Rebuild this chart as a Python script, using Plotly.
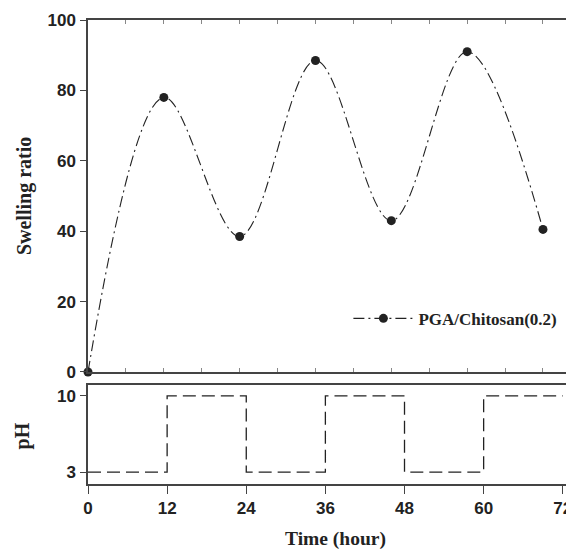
import plotly.graph_objects as go

# Swelling data
time_h = [0, 11.5, 23, 34.5, 46, 57.5, 69]
swelling = [0, 78, 38.5, 88.5, 43, 91, 40.5]
series_name = "PGA/Chitosan(0.2)"

# pH program
ph_time = [0, 12, 24, 36, 48, 60, 72]
ph_value = [3, 10, 3, 10, 3, 10, 10]

x_ticks = [0, 12, 24, 36, 48, 60, 72]
sw_ticks = [0, 20, 40, 60, 80, 100]
ph_ticks = [3, 10]

AX = "#444444"
INK = "#222222"
SANS = "Liberation Sans"
SERIF = "Liberation Serif"

fig = go.Figure()
fig.add_trace(go.Scatter(
    x=time_h, y=swelling, name=series_name, mode="lines+markers",
    line=dict(shape="spline", smoothing=1.0, color=INK, width=1.1, dash="11px,4px,2px,4px"),
    marker=dict(size=9, color=INK),
    cliponaxis=False, xaxis="x", yaxis="y",
))
fig.add_trace(go.Scatter(
    x=ph_time, y=ph_value, mode="lines", showlegend=False,
    line=dict(shape="hv", color=INK, width=1.3, dash="13px,6px"),
    xaxis="x2", yaxis="y2",
))

tickfont = dict(family=SANS, size=17, color=INK, weight="bold")
xr = [0, 73.4]

fig.update_layout(
    width=566, height=542,
    margin=dict(l=80, r=0, t=12, b=66),
    plot_bgcolor="white", paper_bgcolor="white",
    showlegend=True,
    legend=dict(x=0.538, y=0.356, xanchor="left", yanchor="middle", itemwidth=60,
                font=dict(family=SERIF, size=17, color=INK, weight="bold"),
                bgcolor="rgba(0,0,0,0)"),
    xaxis=dict(domain=[0, 1], anchor="y", range=xr, showline=True, linecolor=AX, linewidth=1.5,
               mirror="ticks", ticks="inside", ticklen=4, tickcolor="#888888", tick0=0, dtick=5.75,
               showticklabels=False, showgrid=False, zeroline=False),
    yaxis=dict(domain=[0.2414, 1], anchor="x", range=[0, 100], tickvals=sw_ticks,
               showline=True, linecolor=AX, linewidth=1.5, ticks="outside", ticklen=6,
               tickcolor=AX, tickfont=tickfont, ticklabelstandoff=1,
               showgrid=False, zeroline=False),
    xaxis2=dict(domain=[0, 1], anchor="y2", range=xr, tickvals=x_ticks,
                showline=True, linecolor=AX, linewidth=1.5, mirror=True,
                ticks="outside", ticklen=8, tickcolor=AX, tickfont=tickfont,
                ticklabelstandoff=0, showgrid=False, zeroline=False),
    yaxis2=dict(domain=[0, 0.2134], anchor="x2", range=[1.9, 11.0], tickvals=ph_ticks,
                showline=True, linecolor=AX, linewidth=1.5, mirror=True,
                ticks="outside", ticklen=6, tickcolor=AX, tickfont=tickfont,
                ticklabelstandoff=1, showgrid=False, zeroline=False),
    annotations=[
        dict(text="Swelling ratio", xref="paper", yref="paper", x=-0.13, y=0.6207,
             xanchor="center", yanchor="middle", textangle=-90, showarrow=False,
             font=dict(family=SERIF, size=20, color=INK, weight="bold")),
        dict(text="pH", xref="paper", yref="paper", x=-0.136, y=0.103,
             xanchor="center", yanchor="middle", textangle=-90, showarrow=False,
             font=dict(family=SERIF, size=20, color=INK, weight="bold")),
        dict(text="Time (hour)", xref="paper", yref="paper", x=0.512, y=-0.118,
             xanchor="center", yanchor="middle", showarrow=False,
             font=dict(family=SERIF, size=19.5, color=INK, weight="bold")),
    ],
)

fig.write_html("out.html")
